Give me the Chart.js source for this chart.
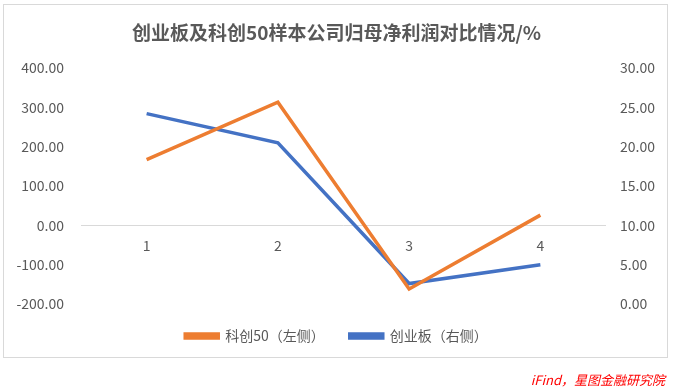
<!DOCTYPE html>
<html>
<head>
<meta charset="utf-8">
<script src="https://cdn.jsdelivr.net/npm/chart.js@4"></script>
<style>
  html, body { margin: 0; padding: 0; background: #fff; }
  #wrap { position: relative; width: 673px; height: 390px; }
  #frame { position: absolute; left: 3px; top: 4px; width: 665px; height: 354px; border: 1px solid #d9d9d9; box-sizing: border-box; pointer-events: none; }
  #src { position: absolute; right: 8px; top: 370px; color: #ff0000; font: italic 13px "Noto Sans CJK SC", sans-serif; }
  canvas { position: absolute; left: 0; top: 0; }
</style>
</head>
<body>
<div id="wrap">
  <canvas id="chart" width="673" height="390"></canvas>
  <div id="frame"></div>
  <div id="src">iFind，星图金融研究院</div>
</div>
<script>
const categories = ['1', '2', '3', '4'];
const kc50 = [167, 313, -162, 26];      // 科创50, left axis
const cyb = [24.2, 20.5, 2.6, 5.0];     // 创业板, right axis
const leftTicks = [-200, 400, 100];     // min, max, step
const rightTicks = [0, 30, 5];

const font = '"Noto Sans CJK SC", "Noto Sans", sans-serif';
const grey = '#595959';

new Chart(document.getElementById('chart'), {
    type: 'line',
    data: {
        labels: categories,
        datasets: [
            {
                label: '科创50（左侧）',
                data: kc50,
                yAxisID: 'y',
                borderColor: '#ED7D31',
                backgroundColor: '#ED7D31',
                borderWidth: 3.5,
                pointRadius: 0,
                tension: 0,
            },
            {
                label: '创业板（右侧）',
                data: cyb,
                yAxisID: 'y1',
                borderColor: '#4472C4',
                backgroundColor: '#4472C4',
                borderWidth: 3.5,
                pointRadius: 0,
                tension: 0,
            },
        ],
    },
    options: {
        responsive: false,
        animation: false,
        layout: { padding: { top: 0, bottom: 37, left: 0, right: 0 } },
        plugins: {
            title: {
                display: true,
                text: '创业板及科创50样本公司归母净利润对比情况/%',
                color: grey,
                font: { family: font, size: 19, weight: 'bold' },
                padding: { top: 21.6, bottom: 23.6 },
            },
            legend: {
                position: 'bottom',
                labels: {
                    color: grey,
                    font: { family: font, size: 14 },
                    boxWidth: 33,
                    boxHeight: 4,
                    padding: 25,
                },
            },
            tooltip: { enabled: false },
        },
        scales: {
            x: {
                type: 'category',
                offset: true,
                position: { y: 0 },
                grid: { display: false, drawTicks: false, offset: true },
                border: { display: false },
                ticks: { color: grey, font: { family: font, size: 14 }, padding: 12 },
            },
            y: {
                position: 'left',
                min: leftTicks[0],
                max: leftTicks[1],
                ticks: {
                    stepSize: leftTicks[2],
                    color: grey,
                    font: { family: font, size: 14 },
                    padding: 17,
                    callback: (v) => v.toFixed(2),
                },
                grid: {
                    drawTicks: false,
                    color: (ctx) => (ctx.tick && ctx.tick.value === 0 ? '#d9d9d9' : 'transparent'),
                },
                border: { display: false },
                afterFit: (s) => { s.width = 81; },
            },
            y1: {
                position: 'right',
                min: rightTicks[0],
                max: rightTicks[1],
                ticks: {
                    stepSize: rightTicks[2],
                    color: grey,
                    font: { family: font, size: 14 },
                    padding: 14,
                    callback: (v) => v.toFixed(2),
                },
                grid: { display: false, drawTicks: false },
                border: { display: false },
                afterFit: (s) => { s.width = 67; },
            },
        },
    },
});
</script>
</body>
</html>
